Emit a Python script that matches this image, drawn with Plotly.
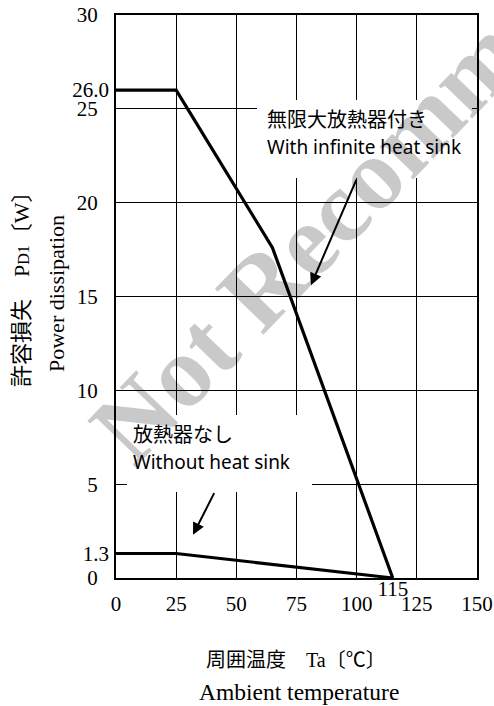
import plotly.graph_objects as go

# ---- data ----
temp_inf = [0, 25, 65, 115]
pd_inf = [26.0, 26.0, 17.6, 0.0]
temp_none = [0, 25, 115]
pd_none = [1.3, 1.3, 0.0]

x_ticks = [0, 25, 50, 75, 100, 125, 150]
x_labels = ["0", "25", "50", "75", "100", "125", "150"]
y_ticks = [0, 5, 10, 15, 20, 25, 30]
y_labels = ["0", "5", "10", "15", "20", "25", "30"]
y_extra_ticks = [1.3, 26.0]
y_extra_labels = ["1.3", "26.0"]
x_extra_ticks = [115]
x_extra_labels = ["115"]

# ---- layout geometry (page pixels; body margin removed) ----
W, H = 494, 706
PLOT_L, PLOT_T, PLOT_R, PLOT_B = 116, 15, 477, 578
L, T, R, B = PLOT_L, PLOT_T, W - PLOT_R, H - PLOT_B
PW, PH = PLOT_R - PLOT_L, PLOT_B - PLOT_T


def px(x):
    return (x - PLOT_L) / PW


def py(y):
    return (PLOT_B - y) / PH


SERIF = "Liberation Serif, Noto Sans CJK JP"
SANS_JP = "Noto Sans CJK JP"
SANS = "Noto Sans, Noto Sans CJK JP"

fig = go.Figure()
fig.add_trace(go.Scatter(x=temp_inf, y=pd_inf, mode="lines",
                         line=dict(color="black", width=3.2), showlegend=False, hoverinfo="skip"))
fig.add_trace(go.Scatter(x=temp_none, y=pd_none, mode="lines",
                         line=dict(color="black", width=3), showlegend=False, hoverinfo="skip"))
# invisible trace for the overlay axes
fig.add_trace(go.Scatter(x=[None], y=[None], xaxis="x2", yaxis="y2", showlegend=False))

axis_common = dict(showline=True, linecolor="black", linewidth=2, mirror=True,
                   showgrid=True, gridcolor="black", gridwidth=1.3, zeroline=False,
                   ticks="", automargin=False, ticklabeloverflow="allow",
                   tickfont=dict(family=SERIF, size=21, color="black"))

fig.update_layout(
    width=W, height=H,
    margin=dict(l=L, r=R, t=T, b=B, autoexpand=False),
    paper_bgcolor="white", plot_bgcolor="white",
    xaxis=dict(range=[0, 150], tickmode="array", tickvals=x_ticks, ticktext=x_labels,
               ticklabelstandoff=6, **axis_common),
    yaxis=dict(range=[0, 30], tickmode="array", tickvals=y_ticks, ticktext=y_labels,
               ticklabelstandoff=12, **axis_common),
    xaxis2=dict(range=[0, 150], overlaying="x", side="bottom", anchor="y2",
                tickmode="array", tickvals=x_extra_ticks, ticktext=x_extra_labels,
                showgrid=False, showline=False, zeroline=False, ticks="",
                ticklabelstandoff=-4, automargin=False, ticklabeloverflow="allow",
                tickfont=dict(family=SERIF, size=21, color="black")),
    yaxis2=dict(range=[0, 30], overlaying="y", side="left", anchor="x2",
                tickmode="array", tickvals=y_extra_ticks, ticktext=y_extra_labels,
                showgrid=False, showline=False, zeroline=False, ticks="",
                ticklabelstandoff=6, automargin=False, ticklabeloverflow="allow",
                tickfont=dict(family=SERIF, size=21, color="black")),
)

# white label boxes that break the grid
fig.add_shape(type="rect", xref="paper", yref="paper", layer="above",
              x0=px(257), x1=px(472), y0=py(178), y1=py(100),
              fillcolor="white", line=dict(width=0))
fig.add_shape(type="rect", xref="paper", yref="paper", layer="above",
              x0=px(127), x1=px(312), y0=py(492), y1=py(415),
              fillcolor="white", line=dict(width=0))

ann = []
# watermark (first, so labels sit on top)
ann.append(dict(text="<b>Not Recommended</b>", xref="paper", yref="paper",
                x=px(397), y=py(146), xanchor="center", yanchor="middle",
                textangle=-46, showarrow=False,
                font=dict(family="Liberation Serif", size=102, color="rgba(0,0,0,0.21)")))

# curve labels
ann.append(dict(text="無限大放熱器付き", xref="paper", yref="paper", x=px(265), y=py(118),
                xanchor="left", yanchor="middle", showarrow=False,
                font=dict(family=SANS_JP, size=20, color="black")))
ann.append(dict(text="With infinite heat sink", xref="paper", yref="paper", x=px(265), y=py(147),
                xanchor="left", yanchor="middle", showarrow=False,
                font=dict(family=SANS, size=19, color="black")))
ann.append(dict(text="放熱器なし", xref="paper", yref="paper", x=px(131), y=py(433),
                xanchor="left", yanchor="middle", showarrow=False,
                font=dict(family=SANS_JP, size=20, color="black")))
ann.append(dict(text="Without heat sink", xref="paper", yref="paper", x=px(131), y=py(462),
                xanchor="left", yanchor="middle", showarrow=False,
                font=dict(family=SANS, size=19, color="black")))

# arrows
ann.append(dict(text="", x=81.0, y=15.6, xref="x", yref="y", ax=100.1, ay=21.3,
                axref="x", ayref="y", showarrow=True, arrowhead=2, arrowsize=1.2,
                arrowwidth=2, arrowcolor="black"))
ann.append(dict(text="", x=32.0, y=2.3, xref="x", yref="y", ax=41.1, ay=4.6,
                axref="x", ayref="y", showarrow=True, arrowhead=2, arrowsize=1.2,
                arrowwidth=2, arrowcolor="black"))

# axis titles
ann.append(dict(text="許容損失　P<span style='font-size:16px'>D1</span>〔W〕",
                xref="paper", yref="paper", x=px(21), y=py(284),
                xanchor="center", yanchor="middle", textangle=-90, showarrow=False,
                font=dict(family=SERIF, size=22, color="black")))
ann.append(dict(text="Power dissipation", xref="paper", yref="paper", x=px(56), y=py(294),
                xanchor="center", yanchor="middle", textangle=-90, showarrow=False,
                font=dict(family=SERIF, size=22, color="black")))
ann.append(dict(text="周囲温度　Ta〔℃〕", xref="paper", yref="paper", x=px(296), y=py(660),
                xanchor="center", yanchor="middle", showarrow=False,
                font=dict(family=SERIF, size=20, color="black")))
ann.append(dict(text="Ambient temperature", xref="paper", yref="paper", x=px(299), y=py(692),
                xanchor="center", yanchor="middle", showarrow=False,
                font=dict(family=SERIF, size=23.5, color="black")))

fig.update_layout(annotations=ann)

fig.write_html("out.html", config={"displayModeBar": False},
               post_script="document.body.style.margin='0';")
